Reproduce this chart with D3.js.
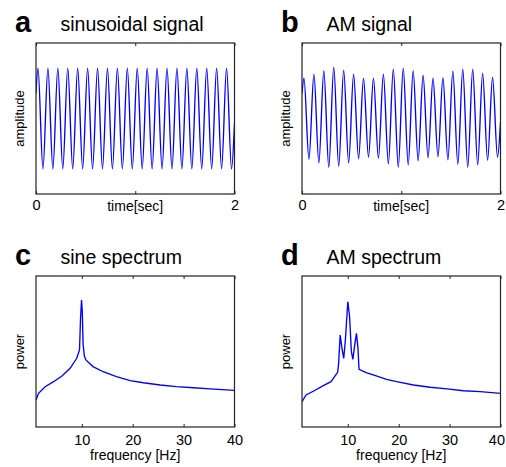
<!DOCTYPE html>
<html>
<head>
<meta charset="utf-8">
<script src="https://cdn.jsdelivr.net/npm/d3@7"></script>
<style>
  body { margin: 0; background: #fff; }
  svg text { font-family: 'Liberation Sans', Arial, sans-serif; fill: #000; }
</style>
</head>
<body>
<div id="chart"></div>
<script>
// extrema of the time signals (peaks at .02 + .1k, troughs at .07 + .1k)
const signalTime = [0, 0.02, 0.07, 0.12, 0.17, 0.22, 0.27, 0.32, 0.37, 0.42, 0.47,
  0.52, 0.57, 0.62, 0.67, 0.72, 0.77, 0.82, 0.87, 0.92, 0.97,
  1.02, 1.07, 1.12, 1.17, 1.22, 1.27, 1.32, 1.37, 1.42, 1.47,
  1.52, 1.57, 1.62, 1.67, 1.72, 1.77, 1.82, 1.87, 1.92, 1.97, 2.0]
const sineValues = [0.5, 1, -1, 1, -1, 1, -1, 1, -1, 1, -1,
  1, -1, 1, -1, 1, -1, 1, -1, 1, -1,
  1, -1, 1, -1, 1, -1, 1, -1, 1, -1,
  1, -1, 1, -1, 1, -1, 1, -1, 1, -1, -0.1]
const amValues = [0.5, 0.80, -0.81, 0.88, -0.88, 0.95, -0.97, 1.02, -0.95, 0.96, -0.88,
  0.88, -0.80, 0.80, -0.77, 0.80, -0.79, 0.88, -0.90, 0.98, -0.97,
  1.00, -0.92, 0.95, -0.84, 0.86, -0.78, 0.80, -0.76, 0.81, -0.82,
  0.94, -0.91, 0.98, -0.97, 0.98, -0.92, 0.90, -0.83, 0.82, -0.77, -0.08]

// spectra (power in arbitrary units, 0-100 over the frame)
const sineFreq = [1, 1.5, 2.8, 4.45, 6.1, 7.7, 9.0, 9.55, 9.75, 9.95, 10.1, 10.25, 10.5,
  10.8, 12.2, 14.2, 16.8, 19.5, 22.1, 25.4, 28.6, 31.9, 35.2, 40]
const sinePower = [17.9, 22.3, 26.7, 30, 33.8, 38.9, 45.5, 51, 72, 84, 76, 55, 47,
  44.4, 40, 36.6, 33.3, 30.7, 29.3, 27.8, 26.7, 26, 25.2, 24.3]
const amFreq = [1, 1.8, 3.4, 5.1, 6.7, 8.0, 8.2, 8.5, 8.9, 9.2, 9.5, 10.0, 10.35, 10.7,
  11.0, 11.4, 11.7, 12.0, 12.2, 13.6, 15.6, 17.6, 19.6, 22.9, 26.2, 29.5, 32.7, 36.0, 40]
const amPower = [16.8, 21.2, 24, 27.2, 30, 36.2, 42.2, 60.9, 51, 45.5, 56.5, 83, 73, 49.9,
  44.8, 55.4, 62, 52.1, 38.2, 36, 33.8, 31.6, 30, 27.8, 26.3, 25.2, 24, 23.4, 22.3]

const timeTicks = [0, 1, 2]
const freqTicks = [10, 20, 30, 40]

const width = 506
const height = 467
const frameW = 198.5
const frameH = 151

const panels = [
  { letter: 'a', title: 'sinusoidal signal', ylabel: 'amplitude', xlabel: 'time[sec]',
    xs: signalTime, ys: sineValues, xDomain: [0, 2], yDomain: [-1.5, 1.5],
    ticks: timeTicks, fmt: d => (d === 1 ? '' : d), pad: 6.2, xlabelDy: 16.5,
    curve: d3.curveMonotoneX, left: 36, top: 43 },
  { letter: 'b', title: 'AM signal', ylabel: 'amplitude', xlabel: 'time[sec]',
    xs: signalTime, ys: amValues, xDomain: [0, 2], yDomain: [-1.5, 1.5],
    ticks: timeTicks, fmt: d => (d === 1 ? '' : d), pad: 6.2, xlabelDy: 16.5,
    curve: d3.curveMonotoneX, left: 302, top: 43 },
  { letter: 'c', title: 'sine spectrum', ylabel: 'power', xlabel: 'frequency [Hz]',
    xs: sineFreq, ys: sinePower, xDomain: [1, 40], yDomain: [0, 100],
    ticks: freqTicks, fmt: d => d, pad: 7.7, xlabelDy: 33,
    curve: d3.curveLinear, left: 36, top: 276 },
  { letter: 'd', title: 'AM spectrum', ylabel: 'power', xlabel: 'frequency [Hz]',
    xs: amFreq, ys: amPower, xDomain: [1, 40], yDomain: [0, 100],
    ticks: freqTicks, fmt: d => d, pad: 7.7, xlabelDy: 33,
    curve: d3.curveLinear, left: 302, top: 276 },
]

const svg = d3
  .select('#chart')
  .append('svg')
  .attr('width', width)
  .attr('height', height)

panels.forEach((p, i) => {
  const x = d3.scaleLinear().domain(p.xDomain).range([0, frameW])
  const y = d3.scaleLinear().domain(p.yDomain).range([frameH, 0])

  const g = svg.append('g').attr('transform', `translate(${p.left},${p.top})`)

  g.append('clipPath')
    .attr('id', 'clip' + i)
    .append('rect')
    .attr('width', frameW)
    .attr('height', frameH)

  const line = d3
    .line()
    .x(d => x(d[0]))
    .y(d => y(d[1]))
    .curve(p.curve)

  g.append('path')
    .datum(d3.zip(p.xs, p.ys))
    .attr('clip-path', `url(#clip${i})`)
    .attr('fill', 'none')
    .attr('stroke', '#0000ff')
    .attr('stroke-width', 1.35)
    .attr('d', line)

  // bottom axis, ticks pointing inward
  g.append('g')
    .attr('transform', `translate(0,${frameH})`)
    .call(d3.axisBottom(x).tickValues(p.ticks).tickSize(-3).tickPadding(p.pad).tickFormat(p.fmt))
    .call(a => a.select('.domain').remove())
    .call(a => a.selectAll('line').attr('stroke', '#222'))
    .call(a => a.selectAll('text').attr('font-size', 14.5).attr('fill', '#000'))
    .call(a =>
      // keep the last label inside the page
      a.selectAll('text').each(function () {
        const box = this.getBoundingClientRect()
        if (box.right > width - 1) d3.select(this).attr('x', width - 1 - box.right)
      })
    )

  g.append('g')
    .call(d3.axisTop(x).tickValues(p.ticks).tickSize(-3).tickFormat(''))
    .call(a => a.select('.domain').remove())
    .call(a => a.selectAll('line').attr('stroke', '#222'))

  g.append('rect')
    .attr('width', frameW)
    .attr('height', frameH)
    .attr('fill', 'none')
    .attr('stroke', '#222')
    .attr('stroke-width', 1.2)

  g.append('text')
    .attr('x', frameW / 2)
    .attr('y', frameH + p.xlabelDy)
    .attr('text-anchor', 'middle')
    .attr('font-size', 14)
    .text(p.xlabel)

  g.append('text')
    .attr('transform', `translate(-12,${frameH / 2}) rotate(-90)`)
    .attr('text-anchor', 'middle')
    .attr('font-size', 13)
    .text(p.ylabel)

  g.append('text')
    .attr('x', 24.5)
    .attr('y', -12)
    .attr('font-size', 19.5)
    .text(p.title)

  g.append('text')
    .attr('x', -21)
    .attr('y', -11.5)
    .attr('font-size', 29)
    .attr('font-weight', 'bold')
    .text(p.letter)
})
</script>
</body>
</html>
